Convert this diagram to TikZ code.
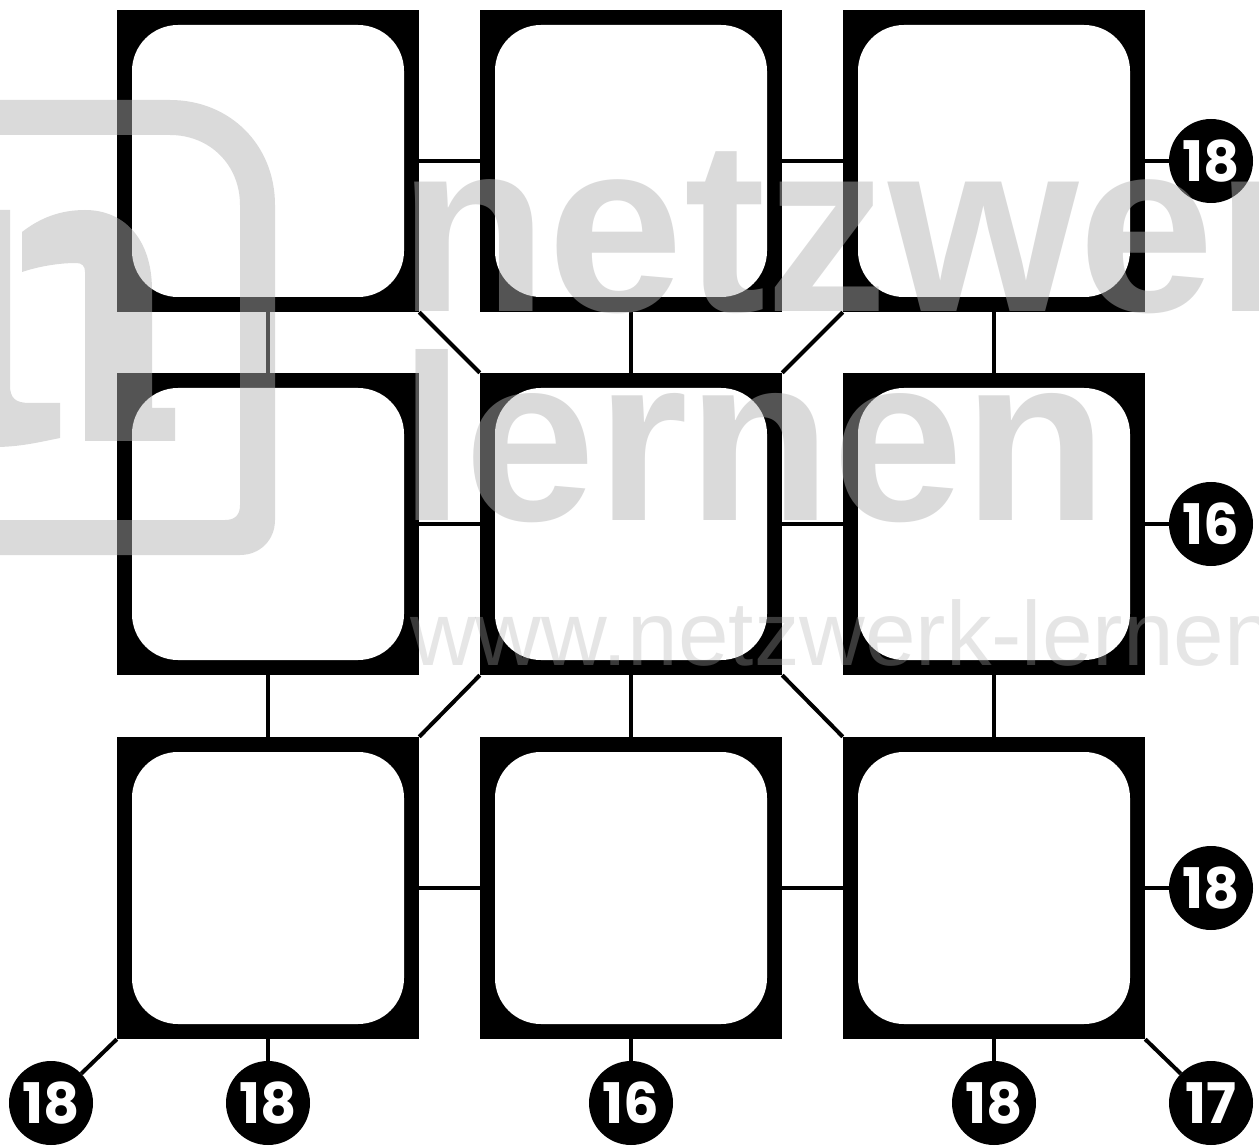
\documentclass[tikz,border=0pt]{standalone}
\usepackage{fontspec}
\setmainfont{Liberation Sans}
\newfontfamily\badgefont{Poppins}
\definecolor{WmGray}{gray}{0.7}
\tikzset{
  cell/.style={rectangle,fill=black,minimum size=302pt,inner sep=0pt},
  hole/.style={rectangle,fill=white,rounded corners=46pt,minimum size=272pt,inner sep=0pt},
  link/.style={line width=4pt,black},
  badge/.style={circle,fill=black,text=white,minimum size=84pt,inner sep=0pt,font=\badgefont\bfseries\fontsize{56}{56}\selectfont},
  wmtext/.style={anchor=base west,inner sep=0pt,text=WmGray,text opacity=0.475},
  wmfill/.style={fill=WmGray,fill opacity=0.475}
}
\begin{document}
\begin{tikzpicture}[x=1pt,y=-1pt]
\useasboundingbox (0,0) rectangle (1259,1147);
\foreach \r/\y in {0/161,1/524,2/888} {
  \foreach \c/\x in {0/268,1/631,2/994} {
    \node[cell](n\r\c) at(\x,\y) {};
  }
}
\node[badge](b0) at(1211,161) {18};
\node[badge](b1) at(1211,524) {16};
\node[badge](b2) at(1211,888) {18};
\node[badge](b3) at(51,1103) {18};
\node[badge](b4) at(268,1103) {18};
\node[badge](b5) at(631,1103) {16};
\node[badge](b6) at(994,1103) {18};
\node[badge](b7) at(1211,1103) {17};
% grid links
\foreach \r in {0,1,2} {
  \draw[link] (n\r0) -- (n\r1);
  \draw[link] (n\r1) -- (n\r2);
}
\foreach \c in {0,1,2} {
  \draw[link] (n0\c) -- (n1\c);
  \draw[link] (n1\c) -- (n2\c);
}
\draw[link] (n00.south east) -- (n11.north west);
\draw[link] (n02.south west) -- (n11.north east);
\draw[link] (n20.north east) -- (n11.south west);
\draw[link] (n22.north west) -- (n11.south east);
% badges
\draw[link] (n02) -- (b0);
\draw[link] (n12) -- (b1);
\draw[link] (n22) -- (b2);
\draw[link] (n20.south west) -- (b3);
\draw[link] (n20) -- (b4);
\draw[link] (n21) -- (b5);
\draw[link] (n22) -- (b6);
\draw[link] (n22.south east) -- (b7);
% white holes over the links
\foreach \r/\y in {0/161,1/524,2/888} {
  \foreach \c/\x in {0/268,1/631,2/994} {
    \node[hole](h\r\c) at(\x,\y) {};
  }
}
% watermark
\begin{scope}
\clip (0,0) rectangle (1259,1147);
\fill[wmfill]
  (-5,100) -- (170,100) .. controls (230,100) and (275,145) .. (275,205) -- (275,520)
  .. controls (275,540) and (260,555) .. (240,555) -- (-5,555) -- (-5,520) -- (225,520)
  .. controls (235,520) and (240,515) .. (240,505) -- (240,205)
  .. controls (240,165) and (210,135) .. (170,135) -- (-5,135) -- cycle;
\fill[wmfill]
  (22,232) .. controls (40,218) and (60,210) .. (85,210) .. controls (125,210) and (152,240) .. (152,290)
  -- (152,408) -- (175,408) -- (175,441) -- (85,441) -- (85,272) .. controls (85,266) and (82,263) .. (76,263)
  .. controls (60,263) and (40,266) .. (22,272) -- cycle;
\fill[wmfill]
  (-5,210) -- (10,210) -- (10,385) .. controls (10,398) and (15,403) .. (30,403) -- (60,403) -- (60,438)
  .. controls (40,442) and (20,447) .. (-5,447) -- cycle;
\node[wmtext,font=\bfseries\fontsize{245}{245}\selectfont](wm0) at(398,312) {netzwerk};
\node[wmtext,font=\bfseries\fontsize{236}{236}\selectfont](wm1) at(399,521) {lernen};
\node[wmtext,text opacity=0.33,font=\fontsize{91}{91}\selectfont](wm2) at(410,665) {www.netzwerk-lernen};
\end{scope}
\end{tikzpicture}
\end{document}
